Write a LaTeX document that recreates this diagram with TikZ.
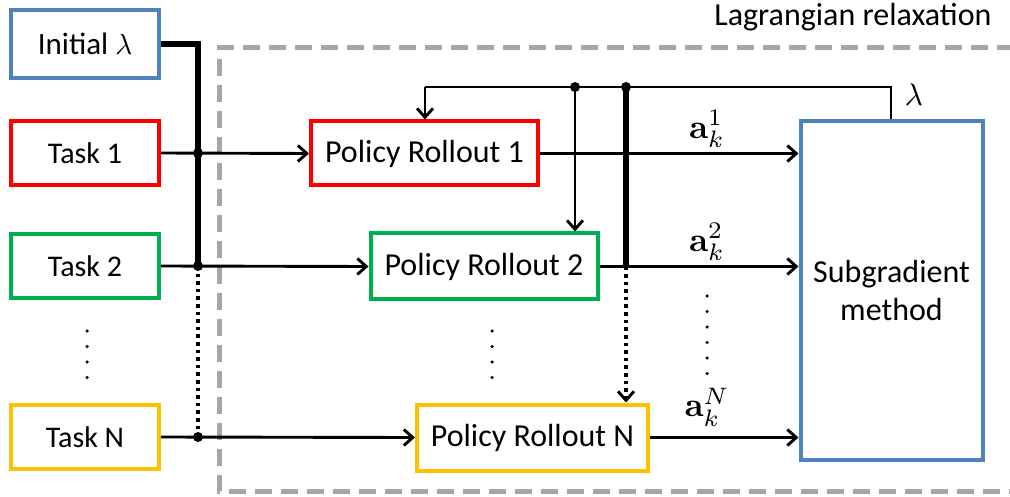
\documentclass[tikz,border=0pt]{standalone}
\usepackage[no-math]{fontspec}
\usepackage{graphicx}
\setmainfont{Carlito}
\usetikzlibrary{arrows.meta,calc}
\definecolor{boxblue}{RGB}{79,129,189}
\definecolor{boxred}{RGB}{255,0,0}
\definecolor{boxgreen}{RGB}{0,176,80}
\definecolor{boxyellow}{RGB}{255,192,0}
\definecolor{frame}{RGB}{166,166,166}
% math set at 10pt and enlarged, so the script sizes keep their proportions
\newcommand{\bigmath}[2][3.1]{\scalebox{#1}{\normalsize$#2$}}
\tikzset{
  blockbox/.style={draw=#1, line width=4pt, minimum height=64pt, inner sep=0pt,
    font=\fontsize{32}{38}\selectfont, text=black},
  flow/.style={line width=2.9pt, -{Straight Barb[length=9pt,width=16pt,line width=2.9pt]}},
  thinline/.style={line width=2.9pt},
  thickline/.style={line width=5.5pt},
  dotline/.style={line width=3.6pt, dash pattern=on 3.6pt off 4pt},
  junction/.style={circle, fill=black, inner sep=0pt, minimum size=10pt},
  smalldot/.style={circle, fill=black, inner sep=0pt, minimum size=3.5pt},
  taskfont/.style={font=\fontsize{30}{34}\selectfont},
}
\begin{document}
\begin{tikzpicture}[x=1pt,y=-1pt]
\useasboundingbox (0,0) rectangle (1010,497);

% relaxation frame (right edge runs past the page)
\draw[frame, line width=5pt, dash pattern=on 17pt off 9pt]
  (1040,48) -- (219,48) -- (219,491) -- (1040,491);
\node[anchor=east, font=\fontsize{32}{36}\selectfont] (lagr) at (995,17) {Lagrangian relaxation};

% inputs
\node[blockbox=boxblue, minimum width=148pt, minimum height=68pt, font=\fontsize{31}{34}\selectfont] (init) at (85,44) {Initial \bigmath[2.9]{\lambda}};
\node[blockbox=boxred, minimum width=148pt, taskfont] (t1) at (85,153) {Task 1};
\node[blockbox=boxgreen, minimum width=148pt, taskfont] (t2) at (85,266) {Task 2};
\node[blockbox=boxyellow, minimum width=148pt, taskfont] (tN) at (85,437) {Task N};

% rollouts
\node[blockbox=boxred, minimum width=227pt] (r1) at (424.5,153.5) {Policy Rollout 1};
\node[blockbox=boxgreen, minimum width=227pt, minimum height=66pt] (r2) at (484,266.5) {Policy Rollout 2};
\node[blockbox=boxyellow, minimum width=231pt, minimum height=66pt] (rN) at (532.5,437.5) {Policy Rollout N};

% subgradient block
\node[blockbox=boxblue, minimum width=182pt, minimum height=338pt, align=center] (sg) at (891.5,290.5) {Subgradient\\method};

% junction points
\coordinate (j1) at (198,153);
\coordinate (j2) at (198,266);
\coordinate (j3) at (198,437);
\coordinate (top) at (198,44);
\coordinate (fbR) at (891,87);
\coordinate (fbL) at (425,87);
\coordinate (fbA) at (575,87);
\coordinate (fbB) at (626,87);
\coordinate (fbC) at (626,266.5);

% lambda bus on the input side
\draw[thickline] (init.east) -- (top) -- (j2);
\draw[dotline] (j2) -- (j3);

% tasks into rollouts
\draw[flow] (t1.east) -- (r1.west);
\draw[flow] (t2.east) -- (r2.west);
\draw[flow] (tN.east) -- (rN.west);

% lambda fed back from the subgradient block
\draw[thinline] (sg.north -| fbR) -- (fbR) -- (fbL);
\draw[flow] (fbL) -- (fbL |- r1.north);
\draw[flow] (fbA) -- (fbA |- r2.north);
\draw[thickline] (fbB) -- (fbC);
\draw[dotline, -{Straight Barb[length=9pt,width=16pt,line width=2.9pt]}] (fbC) -- (fbB |- rN.north);
\node (lam) at (914,95) {\bigmath{\lambda}};

% rollout outputs
\draw[flow] (r1.east) -- (sg.west |- r1.east);
\draw[flow] (r2.east) -- (sg.west |- r2.east);
\draw[flow] (rN.east) -- (sg.west |- rN.east);
\node (a1) at (707,129) {\bigmath[3.4]{\mathbf{a}_k^1}};
\node (a2) at (707,242) {\bigmath[3.4]{\mathbf{a}_k^2}};
\node (aN) at (707,407) {\bigmath[3.4]{\mathbf{a}_k^N}};

% junction markers
\foreach \p in {j1,j2,j3,fbA,fbB} \node[junction] at (\p) {};

% ellipsis dots
\foreach \y in {331,346.5,362,377.5} {
  \node[smalldot] at (87,\y) {};
  \node[smalldot] at (492,\y) {};
}
\foreach \y in {296,311.5,327,342.5,358,373.5} \node[smalldot] at (707,\y) {};
\end{tikzpicture}
\end{document}
